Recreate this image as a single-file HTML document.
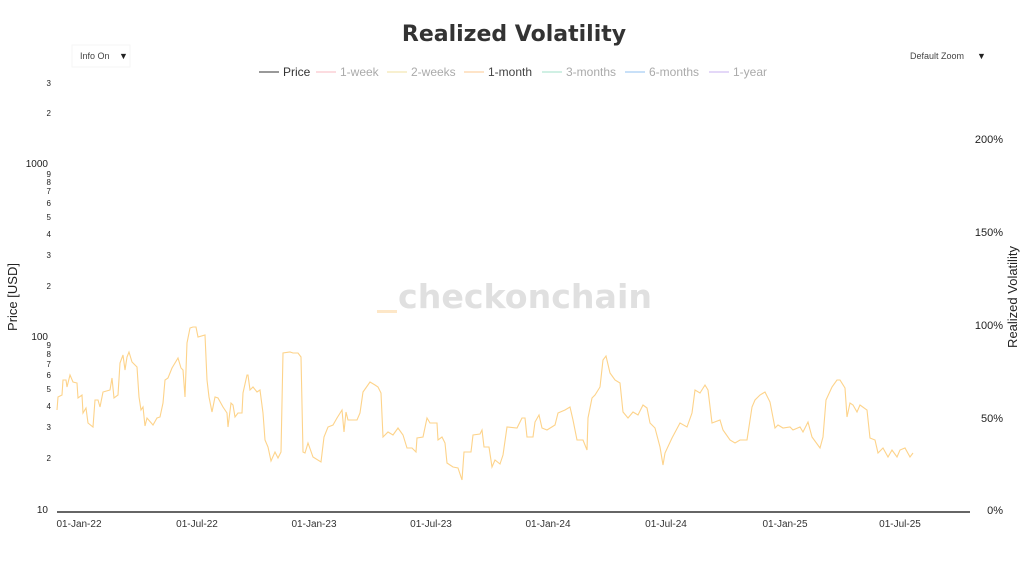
<!DOCTYPE html>
<html><head><meta charset="utf-8"><style>
body{margin:0;background:#fff;width:1024px;height:557px;overflow:hidden;font-family:"Liberation Sans","DejaVu Sans",sans-serif}
</style></head><body>
<svg width="1024" height="557" xmlns="http://www.w3.org/2000/svg" font-family="Liberation Sans, DejaVu Sans, sans-serif">
<text x="514" y="41" text-anchor="middle" font-family="DejaVu Sans, sans-serif" font-weight="bold" font-size="22" fill="#333">Realized Volatility</text>
<rect x="72" y="45" width="58" height="22" fill="#fff" stroke="#f6f6f6"/>
<text x="80" y="59" font-size="9" fill="#444">Info On</text><text x="119" y="59" font-size="9" fill="#222">▼</text>
<text x="910" y="59" font-size="9" fill="#444">Default Zoom</text><text x="977" y="59" font-size="9" fill="#222">▼</text>
<g font-size="12">
<line x1="259" y1="72" x2="279" y2="72" stroke="#333"/><text x="283" y="76" fill="#333">Price</text>
<line x1="316" y1="72" x2="336" y2="72" stroke="#f8b8c0"/><text x="340" y="76" fill="#aaa">1-week</text>
<line x1="387" y1="72" x2="407" y2="72" stroke="#f0e0a0"/><text x="411" y="76" fill="#aaa">2-weeks</text>
<line x1="464" y1="72" x2="484" y2="72" stroke="#fcc890"/><text x="488" y="76" fill="#444">1-month</text>
<line x1="542" y1="72" x2="562" y2="72" stroke="#a0e0c8"/><text x="566" y="76" fill="#aaa">3-months</text>
<line x1="625" y1="72" x2="645" y2="72" stroke="#90c0f0"/><text x="649" y="76" fill="#aaa">6-months</text>
<line x1="709" y1="72" x2="729" y2="72" stroke="#c8b0f0"/><text x="733" y="76" fill="#aaa">1-year</text>
</g>
<text x="398" y="308" font-family="DejaVu Sans, sans-serif" font-weight="bold" font-size="33" fill="#e0e0e0" textLength="254" lengthAdjust="spacingAndGlyphs">checkonchain</text>
<rect x="377" y="310" width="20" height="3" fill="#fde7c8"/>
<g font-size="8" fill="#222" text-anchor="end">
<text x="51" y="86">3</text><text x="51" y="116">2</text>
<text x="48" y="167" font-size="10">1000</text>
<text x="51" y="177">9</text><text x="51" y="185">8</text><text x="51" y="194">7</text><text x="51" y="206">6</text><text x="51" y="220">5</text><text x="51" y="237">4</text><text x="51" y="258">3</text><text x="51" y="289">2</text>
<text x="48" y="340" font-size="10">100</text>
<text x="51" y="348">9</text><text x="51" y="357">8</text><text x="51" y="367">7</text><text x="51" y="378">6</text><text x="51" y="392">5</text><text x="51" y="409">4</text><text x="51" y="430">3</text><text x="51" y="461">2</text>
<text x="48" y="513" font-size="10">10</text>
</g>
<text transform="translate(17,297) rotate(-90)" text-anchor="middle" font-size="13" fill="#222">Price [USD]</text>
<g font-size="11" fill="#222" text-anchor="end">
<text x="1003" y="143">200%</text><text x="1003" y="236">150%</text><text x="1003" y="329">100%</text><text x="1003" y="422">50%</text><text x="1003" y="514">0%</text>
</g>
<text transform="translate(1017,297) rotate(-90)" text-anchor="middle" font-size="13" fill="#222">Realized Volatility</text>
<line x1="57" y1="512" x2="970" y2="512" stroke="#666" stroke-width="2"/>
<g font-size="10" fill="#333" text-anchor="middle">
<text x="79" y="527">01-Jan-22</text><text x="197" y="527">01-Jul-22</text><text x="314" y="527">01-Jan-23</text><text x="431" y="527">01-Jul-23</text><text x="548" y="527">01-Jan-24</text><text x="666" y="527">01-Jul-24</text><text x="785" y="527">01-Jan-25</text><text x="900" y="527">01-Jul-25</text>
</g>
<polyline fill="none" stroke="#fdd38a" stroke-width="1.1" points="57,410 58,397 62,395 63,380 66,380 67,387 70,375 73,382 77,383 78,398 82,395 83,413 86,408 88,423 93,427 95,400 98,400 100,407 103,392 110,390 112,378 114,398 118,395 120,363 123,355 125,370 127,357 129,352 132,362 137,367 139,397 141,410 143,407 145,426 147,418 153,425 157,418 160,417 163,403 165,380 168,378 172,368 175,363 178,358 181,368 183,370 185,397 187,343 190,328 193,327 196,327 198,337 205,335 207,380 209,397 212,412 215,397 218,398 223,407 227,413 228,427 231,403 233,405 235,417 238,413 242,413 243,393 247,375 248,375 250,390 253,387 257,392 260,390 263,413 265,440 268,447 271,461 275,452 278,458 281,452 283,353 290,352 293,353 298,353 301,357 303,452 305,453 308,443 313,457 321,462 324,437 328,427 333,425 337,418 342,410 344,432 346,412 348,420 357,420 360,413 363,392 370,382 375,385 378,387 381,393 383,437 388,432 393,435 398,428 403,435 407,448 412,448 416,452 417,438 423,437 427,418 430,423 437,423 438,440 442,437 445,443 447,463 453,467 458,468 462,480 464,452 471,452 473,435 480,434 482,430 484,447 489,447 492,467 495,460 500,464 503,455 507,427 517,428 522,418 525,418 527,437 533,437 535,422 539,415 542,428 547,430 555,425 558,413 565,410 570,407 573,420 577,440 583,440 587,450 588,418 592,398 595,395 600,387 603,360 606,356 610,373 615,380 620,383 623,412 628,418 633,412 638,415 643,405 647,408 650,423 655,428 660,447 663,465 665,453 672,438 680,423 687,427 692,413 695,390 700,393 705,385 708,390 712,423 720,420 723,430 730,440 735,443 740,440 747,440 752,407 755,400 760,395 765,392 770,402 775,428 778,425 783,428 790,427 793,430 800,427 803,432 808,422 812,437 820,448 823,437 826,400 832,387 837,380 840,380 845,388 847,417 850,403 853,405 857,412 860,405 867,410 870,438 875,440 878,453 883,448 888,457 892,450 897,457 900,450 905,448 910,457 913,453"/>
</svg>
</body></html>
